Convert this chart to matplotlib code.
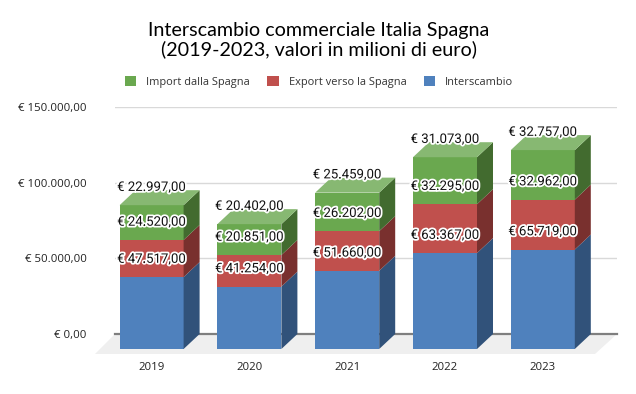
import matplotlib
matplotlib.use("Agg")
import matplotlib.pyplot as plt
import matplotlib.patheffects as pe
from matplotlib.patches import Patch, Polygon

years = ["2019", "2020", "2021", "2022", "2023"]
interscambio = [47517, 41254, 51660, 63367, 65719]
export_es = [24520, 20851, 26202, 32295, 32962]
import_es = [22997, 20402, 25459, 31073, 32757]
y_ticks = [0, 50000, 100000, 150000]


def euro(v):
    # formato italiano: punto per le migliaia, virgola per i decimali
    if v == 0:
        return "€ 0,00"
    return "€ " + f"{v:,.2f}".replace(",", "#").replace(".", ",").replace("#", ".")


W, H = 636, 394
fig = plt.figure(figsize=(W / 100, H / 100), dpi=100)
ax = fig.add_axes([115 / W, 1 - 334 / H, (617 - 115) / W, (334 - 107) / H])

# scala: 97.8 px per categoria, 227 px per 150000
px_x = 97.8
px_y = 227 / 150000
ax.set_xlim((115 - 167.6) / px_x, (617 - 167.6) / px_x)
ax.set_ylim(0, 150000)

# profondita' del finto 3D
dx = 16 / px_x
dy = 15 / px_y
w = 64 / px_x

ax.add_patch(Polygon([(ax.get_xlim()[0] - 20 / px_x, -20 / px_y), (ax.get_xlim()[0], 0),
                      (ax.get_xlim()[1], 0), (ax.get_xlim()[1] - 22 / px_x, -20 / px_y)],
                     fc="#efefef", ec="none", clip_on=False, zorder=1))

series = [
    (interscambio, "#4f81bd", "#31527a", "#6a97cc"),
    (export_es, "#c0504d", "#79302e", "#d07a78"),
    (import_es, "#6aa84f", "#426b2f", "#87b872"),
]

for i in range(len(years)):
    bottom = 0
    for vals, front, side, top in series:
        v = vals[i]
        x0 = i - dx - w / 2
        x1 = i - dx + w / 2
        y0 = bottom - dy
        y1 = bottom + v - dy
        ax.bar(i - dx, v, w, bottom=y0, color=front, clip_on=False, zorder=3)
        ax.add_patch(Polygon([(x1, y0), (x1 + dx, y0 + dy), (x1 + dx, y1 + dy), (x1, y1)],
                             fc=side, ec="none", clip_on=False, zorder=3))
        bottom += v
    ax.add_patch(Polygon([(x0, y1), (x0 + dx, y1 + dy), (x1 + dx, y1 + dy), (x1, y1)],
                         fc=series[-1][3], ec="none", clip_on=False, zorder=3))

for i in range(len(years)):
    bottom = 0
    for vals, front, side, top in series:
        v = vals[i]
        bottom += v
        ax.annotate(euro(v), xy=(i - dx, bottom), xytext=(0, 2.0), textcoords="offset points",
                    ha="center", va="center", fontsize=9.5, family="Roboto", color="#111111",
                    zorder=5, annotation_clip=False,
                    path_effects=[pe.withStroke(linewidth=2.6, foreground="white")])

ax.set_yticks(y_ticks)
ax.set_yticklabels([euro(v) for v in y_ticks], fontsize=8.2, family="Open Sans", color="#222222")
ax.set_xticks([i - dx for i in range(len(years))])
ax.set_xticklabels(years, fontsize=8.2, family="Open Sans", color="#222222")
ax.tick_params(axis="y", length=0, pad=20.5)
ax.tick_params(axis="x", length=0, pad=20.5)
ax.grid(axis="y", color="#d9d9d9", lw=1)
ax.set_axisbelow(True)
for s in ["top", "right", "left"]:
    ax.spines[s].set_visible(False)
ax.spines["bottom"].set_color("#7f7f7f")
ax.spines["bottom"].set_linewidth(1.6)

fig.text(319 / W, 1 - 40 / H, "Interscambio commerciale Italia Spagna\n(2019-2023, valori in milioni di euro)",
         ha="center", va="center", fontsize=14.2, family="Lato", color="black", linespacing=1.12)

handles = [Patch(fc="#6aa84f", label="Import dalla Spagna"),
           Patch(fc="#c0504d", label="Export verso la Spagna"),
           Patch(fc="#4f81bd", label="Interscambio")]
fig.legend(handles=handles, loc="center", bbox_to_anchor=(319 / W, 1 - 82 / H), ncol=3, frameon=False,
           prop={"family": "Open Sans", "size": 7.9}, handlelength=1.05, handleheight=1.05,
           handletextpad=0.9, columnspacing=1.6, labelcolor="#333333")

fig.savefig("out.png", dpi=100)
